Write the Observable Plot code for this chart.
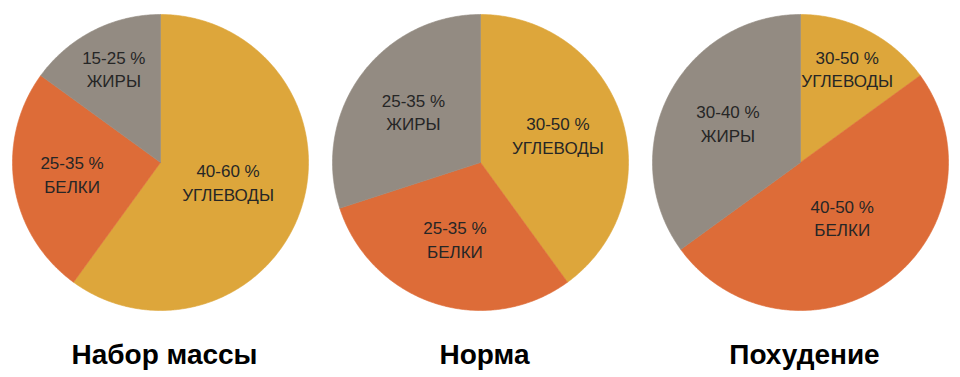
<!DOCTYPE html>
<html>
<head>
<meta charset="utf-8">
<script src="https://cdn.jsdelivr.net/npm/d3@7"></script>
<script src="https://cdn.jsdelivr.net/npm/@observablehq/plot@0.6"></script>
<style>
  html, body { margin: 0; padding: 0; background: #ffffff; }
</style>
</head>
<body>
<div id="chart"></div>
<script>
// ---- data ----
const groups = ["Набор массы", "Норма", "Похудение"];
const nutrients = ["УГЛЕВОДЫ", "БЕЛКИ", "ЖИРЫ"];
// share of each pie (percent), clockwise from 12 o'clock: углеводы, белки, жиры
const sharesMass = [60, 25, 15];
const sharesNorm = [40, 30, 30];
const sharesLoss = [15, 50, 35];
// range labels written inside the slices
const rangesMass = ["40-60 %", "25-35 %", "15-25 %"];
const rangesNorm = ["30-50 %", "25-35 %", "25-35 %"];
const rangesLoss = ["30-50 %", "40-50 %", "30-40 %"];
const colors = ["#DDA63B", "#DD6C38", "#938B82"];

// ---- build slice geometry from the values ----
const shares = [sharesMass, sharesNorm, sharesLoss];
const ranges = [rangesMass, rangesNorm, rangesLoss];
const slicePts = [];
const labels = [];
groups.forEach((g, gi) => {
  const vals = shares[gi];
  const total = d3.sum(vals);
  let acc = 0;
  vals.forEach((v, i) => {
    const a0 = acc / total * 2 * Math.PI;
    acc += v;
    const a1 = acc / total * 2 * Math.PI;
    const key = g + "|" + nutrients[i];
    slicePts.push({group: g, nutrient: nutrients[i], key, x: 0, y: 0});
    const n = Math.max(2, Math.ceil((a1 - a0) / (Math.PI / 360)));
    for (let k = 0; k <= n; k++) {
      const a = a0 + (a1 - a0) * k / n;
      slicePts.push({group: g, nutrient: nutrients[i], key, x: Math.sin(a), y: Math.cos(a)});
    }
    slicePts.push({group: g, nutrient: nutrients[i], key, x: 0, y: 0});
    const mid = (a0 + a1) / 2;
    const p = v / total * 100;
    // label distance from the centre: small slices further out
    const rr = p <= 30 ? 0.83 - 0.009 * p : (p <= 40 ? 0.55 : 0.48);
    labels.push({group: g, text: ranges[gi][i] + "\n" + nutrients[i], x: rr * Math.sin(mid), y: rr * Math.cos(mid)});
  });
});

const R = 148; // pie radius in px
const chart = Plot.plot({
  width: 960,
  height: 377,
  marginTop: 0, marginBottom: 0, marginLeft: 0, marginRight: 0,
  style: {fontFamily: "'Liberation Sans', Arial, Helvetica, sans-serif", background: "#ffffff"},
  fx: {domain: groups, padding: 0, axis: null},
  x: {domain: [-160 / R, 160 / R], axis: null},
  y: {domain: [-(377 - 162) / R, 162 / R], axis: null},
  color: {domain: nutrients, range: colors},
  marks: [
    Plot.line(slicePts, {
      fx: "group", x: "x", y: "y", z: "key",
      fill: "nutrient", stroke: "nutrient", strokeWidth: 0.6, curve: "linear"
    }),
    Plot.text(labels, {
      fx: "group", x: "x", y: "y", text: "text", dy: -3,
      fontSize: 17, lineHeight: 1.38, fill: "#262626"
    }),
    Plot.text(groups, {
      fx: d => d, text: d => d, frameAnchor: "bottom", lineAnchor: "bottom",
      dy: -14, dx: 4, fontSize: 28, fontWeight: "bold", fill: "#000"
    })
  ]
});
document.getElementById("chart").appendChild(chart);
</script>
</body>
</html>
